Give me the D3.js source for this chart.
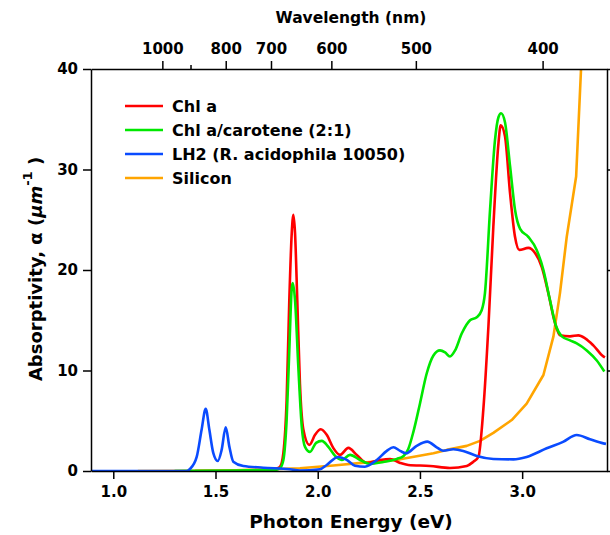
<!DOCTYPE html>
<html>
<head>
<meta charset="utf-8">
<script src="https://cdn.jsdelivr.net/npm/d3@7"></script>
<style>
  body { margin: 0; background: #fff; }
  svg text { font-family: "DejaVu Sans", sans-serif; font-weight: bold; fill: #000; }
</style>
</head>
<body>
<svg width="610" height="535"></svg>
<script>
// photon energy (eV) and absorptivity (1/um)
var chlaE = [1.40, 1.60, 1.75, 1.80, 1.816, 1.832, 1.848, 1.861, 1.873, 1.881, 1.889, 1.900, 1.913, 1.930, 1.959, 1.987, 2.015, 2.044, 2.076, 2.109, 2.150, 2.191, 2.240, 2.305, 2.354, 2.403, 2.443, 2.549, 2.647, 2.729, 2.760, 2.786, 2.810, 2.835, 2.859, 2.884, 2.895, 2.916, 2.941, 2.965, 2.986, 3.030, 3.063, 3.096, 3.128, 3.161, 3.185, 3.234, 3.275, 3.308, 3.348, 3.397, 3.405];
var chlaA = [0.0, 0.0, 0.05, 0.25, 0.43, 1.8, 7.1, 17, 23.7, 25.5, 23.7, 17, 8.7, 4.1, 2.6, 3.6, 4.15, 3.6, 2.3, 1.6, 2.3, 1.6, 0.8, 1.1, 1.2, 0.8, 0.6, 0.5, 0.3, 0.5, 0.9, 1.4, 6.1, 14.4, 24.3, 32.6, 34.4, 33.3, 27.6, 23.3, 22.0, 22.2, 21.7, 20.3, 17.7, 14.7, 13.5, 13.4, 13.5, 13.2, 12.5, 11.4, 11.3];

var chlcarE = [1.30, 1.60, 1.79, 1.816, 1.832, 1.848, 1.861, 1.873, 1.878, 1.889, 1.905, 1.922, 1.938, 1.962, 1.992, 2.020, 2.052, 2.085, 2.117, 2.158, 2.207, 2.256, 2.321, 2.387, 2.420, 2.443, 2.468, 2.500, 2.533, 2.566, 2.598, 2.623, 2.647, 2.672, 2.705, 2.745, 2.778, 2.802, 2.818, 2.843, 2.867, 2.884, 2.897, 2.916, 2.941, 2.965, 2.990, 3.030, 3.071, 3.104, 3.136, 3.166, 3.194, 3.234, 3.267, 3.316, 3.365, 3.402];
var chlcarA = [0.0, 0.05, 0.1, 0.3, 1.1, 5.1, 12, 18.2, 18.7, 17, 10.4, 4.4, 2.4, 1.9, 2.8, 3.0, 2.4, 1.5, 1.1, 1.6, 1.1, 0.7, 0.9, 1.2, 1.5, 2.2, 3.9, 6.7, 9.7, 11.5, 12.0, 11.8, 11.4, 12.0, 13.7, 15.0, 15.3, 16.0, 17.7, 26, 32.9, 35.2, 35.6, 34.7, 30.3, 26, 24.1, 23.3, 22, 20, 17, 14.4, 13.4, 13.0, 12.7, 12, 11, 9.9];

var lh2E = [0.89, 1.36, 1.375, 1.408, 1.432, 1.452, 1.470, 1.489, 1.511, 1.530, 1.550, 1.568, 1.587, 1.636, 1.734, 1.864, 1.913, 2.011, 2.044, 2.100, 2.142, 2.182, 2.231, 2.289, 2.338, 2.370, 2.403, 2.432, 2.484, 2.536, 2.582, 2.614, 2.663, 2.712, 2.778, 2.859, 2.957, 3.022, 3.120, 3.200, 3.267, 3.332, 3.397, 3.410];
var lh2A = [0, 0, 0.2, 1.4, 4.1, 6.2, 4.1, 1.8, 1.0, 2.1, 4.35, 2.4, 0.93, 0.5, 0.33, 0.17, 0.05, 0.17, 0.6, 1.4, 1.1, 0.53, 0.43, 1.1, 2.0, 2.36, 2.0, 1.76, 2.5, 2.92, 2.36, 2.02, 2.16, 2.0, 1.5, 1.2, 1.16, 1.4, 2.26, 2.9, 3.58, 3.15, 2.75, 2.7];

var siE = [1.12, 1.40, 1.60, 1.80, 1.913, 2.076, 2.240, 2.403, 2.566, 2.631, 2.729, 2.794, 2.859, 2.949, 3.022, 3.104, 3.153, 3.185, 3.218, 3.264, 3.288, 3.295];
var siA = [0, 0.03, 0.08, 0.2, 0.27, 0.55, 0.86, 1.16, 1.76, 2.1, 2.5, 3.0, 3.8, 5.07, 6.7, 9.55, 13.4, 17.7, 23.3, 29.3, 40, 44];

var seriesNames = ["Chl a", "Chl a/carotene (2:1)", "LH2 (R. acidophila 10050)", "Silicon"];
var seriesColors = ["#ff0000", "#00e800", "#0a4bff", "#ffa500"];

var energyTicks = [1.0, 1.5, 2.0, 2.5, 3.0];
var absTicks = [0, 10, 20, 30, 40];
var wavelengthTicks = [1000, 800, 700, 600, 500, 400];
var wavelengthMinor = [900];

var svg = d3.select("svg");
var plotL = 91, plotR = 607, plotT = 69, plotB = 471;

var x = d3.scaleLinear().domain([0.891, 3.415]).range([plotL, plotR]);
var y = d3.scaleLinear().domain([0, 40]).range([plotB, plotT]);

svg.append("clipPath").attr("id", "plotclip")
  .append("rect").attr("x", plotL).attr("y", plotT)
  .attr("width", plotR - plotL).attr("height", plotB - plotT);

var series = [
  {e: chlaE, a: chlaA, curve: d3.curveMonotoneX},
  {e: chlcarE, a: chlcarA, curve: d3.curveMonotoneX},
  {e: lh2E, a: lh2A, curve: d3.curveMonotoneX},
  {e: siE, a: siA, curve: d3.curveLinear}
];

var plot = svg.append("g").attr("clip-path", "url(#plotclip)");
// silicon under, LH2 on top
[3, 0, 1, 2].forEach(function(i) {
  var line = d3.line()
    .x(function(d) { return x(d[0]); })
    .y(function(d) { return y(d[1]); })
    .curve(series[i].curve);
  plot.append("path")
    .datum(d3.zip(series[i].e, series[i].a))
    .attr("fill", "none")
    .attr("stroke", seriesColors[i])
    .attr("stroke-width", 2.6)
    .attr("stroke-linejoin", "round")
    .attr("d", line);
});

// axes
function styleAxis(g) {
  g.select(".domain").attr("stroke", "#000").attr("stroke-width", 1.5);
  g.selectAll(".tick line").attr("stroke", "#000").attr("stroke-width", 1.5);
  g.selectAll(".tick text").attr("font-size", "15px").attr("font-family", null);
}

svg.append("g")
  .attr("transform", "translate(0," + plotB + ")")
  .call(d3.axisBottom(x).tickValues(energyTicks).tickFormat(d3.format(".1f"))
    .tickSize(8).tickSizeOuter(0).tickPadding(7))
  .call(styleAxis);

svg.append("g")
  .attr("transform", "translate(" + plotL + ",0)")
  .call(d3.axisLeft(y).tickValues(absTicks).tickSize(8).tickSizeOuter(0).tickPadding(5))
  .call(styleAxis);

svg.append("g")
  .attr("transform", "translate(" + plotR + ",0)")
  .call(d3.axisRight(y).tickValues(absTicks).tickSize(4).tickSizeOuter(0).tickFormat(""))
  .call(styleAxis);

svg.append("g")
  .attr("transform", "translate(0," + plotT + ")")
  .call(d3.axisTop(x).tickValues(wavelengthTicks.map(function(l) { return 1240 / l; }))
    .tickFormat(function(e) { return Math.round(1240 / e); })
    .tickSize(8).tickSizeOuter(0).tickPadding(7))
  .call(styleAxis);

svg.append("g")
  .attr("transform", "translate(0," + plotT + ")")
  .call(d3.axisTop(x).tickValues(wavelengthMinor.map(function(l) { return 1240 / l; }))
    .tickFormat("").tickSize(4).tickSizeOuter(0))
  .call(styleAxis)
  .select(".domain").remove();

// titles
svg.append("text")
  .attr("x", (plotL + plotR) / 2 + 2).attr("y", 528)
  .attr("text-anchor", "middle").attr("font-size", "18.5px")
  .text("Photon Energy (eV)");

svg.append("text")
  .attr("x", (plotL + plotR) / 2 + 2).attr("y", 23)
  .attr("text-anchor", "middle").attr("font-size", "15.5px")
  .text("Wavelength (nm)");

var ytitle = svg.append("text")
  .attr("transform", "translate(42,269) rotate(-90)")
  .attr("text-anchor", "middle").attr("font-size", "18px");
ytitle.append("tspan").text("Absorptivity, \u03b1 (");
ytitle.append("tspan").attr("font-style", "italic").text("\u00b5m");
ytitle.append("tspan").attr("dy", -10).attr("font-size", "13px").text("-1");
ytitle.append("tspan").attr("dy", 10).text(" )");

// legend
var legend = svg.append("g");
seriesNames.forEach(function(name, i) {
  var ly = 106 + i * 24;
  legend.append("line")
    .attr("x1", 125).attr("x2", 163).attr("y1", ly).attr("y2", ly)
    .attr("stroke", seriesColors[i]).attr("stroke-width", 2.6);
  legend.append("text")
    .attr("x", 172).attr("y", ly).attr("dy", "0.36em")
    .attr("font-size", "16px")
    .text(name);
});
</script>
</body>
</html>
